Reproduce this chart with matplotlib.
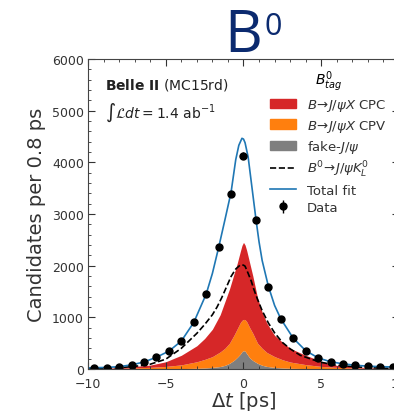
import numpy as np
import matplotlib.pyplot as plt
from matplotlib.ticker import AutoMinorLocator, MultipleLocator
from matplotlib.patches import Patch
from matplotlib.lines import Line2D

# data points (bin centres, 0.8 ps bins)
dt_data = [-9.6, -8.8, -8.0, -7.2, -6.4, -5.6, -4.8, -4.0, -3.2, -2.4, -1.6, -0.8, 0.0,
           0.8, 1.6, 2.4, 3.2, 4.0, 4.8, 5.6, 6.4, 7.2, 8.0, 8.8, 9.6]
counts = [25, 28, 45, 83, 135, 235, 340, 535, 903, 1451, 2355, 3393, 4128,
          2884, 1593, 968, 597, 355, 213, 141, 106, 75, 55, 45, 40]
errors = [5, 5, 7, 9, 12, 15, 18, 23, 30, 38, 49, 58, 64,
          54, 40, 31, 24, 19, 15, 12, 10, 9, 7, 7, 6]

# total fit curve
t_fit = [-10, -9.6, -8.8, -8.0, -7.2, -6.4, -5.6, -4.8, -4.0, -3.2, -2.4, -2.0, -1.6,
         -1.2, -0.8, -0.5, -0.3, -0.1, 0.0, 0.1, 0.3, 0.5, 0.8, 1.0, 1.2, 1.6, 2.0,
         2.4, 3.2, 4.0, 4.8, 5.6, 6.4, 7.2, 8.0, 8.8, 9.6, 10]
total_fit = [22, 25, 30, 45, 80, 135, 228, 345, 540, 900, 1450, 1850, 2350,
             2880, 3420, 4050, 4330, 4465, 4450, 4380, 4100, 3620, 2900, 2460, 2100, 1600, 1230,
             970, 595, 355, 215, 140, 100, 72, 55, 45, 40, 38]

# stacked components (upper edges)
t_comp = [-10, -8, -6, -5, -4, -3, -2.5, -2, -1.5, -1.2, -0.9, -0.6, -0.4, -0.2, -0.1,
          0.0, 0.1, 0.2, 0.4, 0.6, 0.9, 1.2, 1.5, 2, 2.5, 3, 4, 5, 6, 8, 10]
fake_top = [0, 1, 3, 5, 8, 14, 20, 30, 48, 70, 110, 170, 226, 290, 335,
            355, 345, 300, 215, 165, 110, 72, 50, 30, 20, 14, 8, 5, 3, 1, 0]
cpv_top = [4, 12, 32, 50, 80, 140, 185, 240, 330, 400, 500, 660, 780, 900, 940,
           960, 955, 920, 800, 690, 500, 400, 320, 240, 180, 135, 85, 50, 32, 12, 4]
cpc_top = [8, 25, 75, 140, 265, 450, 590, 770, 1050, 1300, 1550, 1850, 2050, 2280, 2390,
           2450, 2400, 2300, 2050, 1800, 1380, 1100, 890, 650, 520, 400, 265, 150, 70, 25, 8]

# B0 -> J/psi KL0 (dashed)
t_kl = [-10, -9, -8, -7, -6, -5, -4, -3, -2.5, -2, -1.7, -1.4, -1.15, -0.8, -0.5, -0.2,
        0.0, 0.1, 0.3, 0.5, 0.66, 0.9, 1.2, 1.6, 2.0, 2.5, 3.0, 3.65, 4.9, 6, 8, 10]
kl_curve = [8, 14, 25, 50, 92, 190, 400, 690, 860, 1050, 1200, 1380, 1550, 1790, 1935, 2015,
            2010, 1990, 1850, 1700, 1548, 1350, 1130, 890, 700, 515, 390, 265, 135, 70, 25, 10]

fig = plt.figure(figsize=(3.94, 4.14), dpi=100)
ax = fig.add_axes([88 / 394, 44 / 414, 311 / 394, 310 / 414])

ax.fill_between(t_comp, 0, fake_top, color='tab:gray', lw=0)
ax.fill_between(t_comp, fake_top, cpv_top, color='tab:orange', lw=0)
ax.fill_between(t_comp, cpv_top, cpc_top, color='tab:red', lw=0)
ax.plot(t_kl, kl_curve, color='k', ls='--', lw=1.2)
ax.plot(t_fit, total_fit, color='tab:blue', lw=1.2)
ax.errorbar(dt_data, counts, yerr=errors, fmt='o', color='k', ms=5, elinewidth=1)

ax.set_xlim(-10, 10)
ax.set_ylim(0, 6000)
ax.xaxis.set_major_locator(MultipleLocator(5))
ax.yaxis.set_major_locator(MultipleLocator(1000))
ax.xaxis.set_minor_locator(AutoMinorLocator(5))
ax.yaxis.set_minor_locator(AutoMinorLocator(5))
ax.tick_params(which='both', direction='in', top=True, right=True, labelsize=9, colors='#333333')
ax.tick_params(which='major', length=5)
ax.tick_params(axis='x', which='major', pad=6)
ax.tick_params(axis='y', which='major', pad=3)
ax.tick_params(which='minor', length=2.5)
for s in ax.spines.values():
    s.set_color('#444444')

ax.set_xlabel(r'$\Delta t$ [ps]', fontsize=14, color='#333333', labelpad=-1)
ax.set_ylabel('Candidates per 0.8 ps', fontsize=14, color='#333333', labelpad=4)

ax.text(0.055, 0.905, r'$\mathbf{Belle\ II}$ (MC15rd)', transform=ax.transAxes, fontsize=10, color='#222222')
ax.text(0.055, 0.815, r'$\int\mathcal{L}dt = 1.4$ ab$^{-1}$', transform=ax.transAxes, fontsize=10, color='#222222')

handles = [
    Patch(color='tab:red'),
    Patch(color='tab:orange'),
    Patch(color='tab:gray'),
    Line2D([], [], color='k', ls='--', lw=1.2),
    Line2D([], [], color='tab:blue', lw=1.2),
    ax.errorbar([], [], yerr=[], fmt='o', color='k', ms=5, elinewidth=1),
]
labels = [r'$B\!\to\! J/\psi X$ CPC', r'$B\!\to\! J/\psi X$ CPV', r'fake-$J/\psi$',
          r'$B^0\!\to\! J/\psi K^0_L$', 'Total fit', 'Data']
leg = ax.legend(handles, labels, loc='upper left', bbox_to_anchor=(0.585, 0.97), frameon=False,
                fontsize=9.5, title=r'$B^0_{tag}$', title_fontsize=10, borderaxespad=0,
                borderpad=0, labelspacing=0.33)
for t in leg.get_texts():
    t.set_color('#333333')

fig.text(224 / 394, 1 - 52 / 414, 'B', fontsize=42, color='#0b2a6f', family='Open Sans', ha='left', va='baseline')
fig.text(265 / 394, 1 - 35 / 414, '0', fontsize=22, color='#0b2a6f', family='Open Sans', ha='left', va='baseline')

fig.savefig('out.png', dpi=100)
